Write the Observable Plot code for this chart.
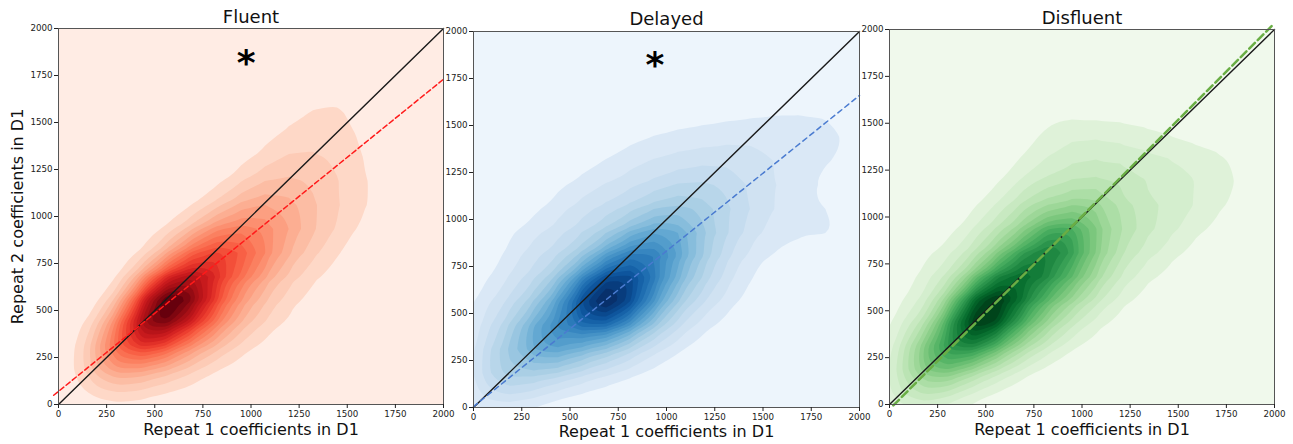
<!DOCTYPE html>
<html><head><meta charset="utf-8">
<script src="https://cdn.jsdelivr.net/npm/d3@7"></script>
<script src="https://cdn.jsdelivr.net/npm/@observablehq/plot@0.6"></script>
<style>
body{margin:0;background:#fff;}
#wrap{position:relative;width:1293px;height:444px;font-family:"DejaVu Sans";}
#wrap svg{position:absolute;top:0;overflow:visible;background:transparent;}
</style></head><body><div id="wrap"></div>
<script>
const titles = ["Fluent", "Delayed", "Disfluent"];
const xLabel = "Repeat 1 coefficients in D1";
const yLabel = "Repeat 2 coefficients in D1";
const ticks = [0, 250, 500, 750, 1000, 1250, 1500, 1750, 2000];
const diagX = [0, 2000];
const diagY = [0, 2000];

// density on a coarse grid (weights); columns x = 0..2000, rows y = 2000..0
const gridX = [0, 125, 250, 375, 500, 625, 750, 875, 1000, 1125, 1250, 1375, 1500, 1625, 1750, 1875, 2000];
const gridY = [2000, 1875, 1750, 1625, 1500, 1375, 1250, 1125, 1000, 875, 750, 625, 500, 375, 250, 125, 0];

const fluentGrid = [
  [0,0,0,0,0,0,0,0,0,0,0,0,0,0,0,0,0],
  [0,0,0,0,0,0,0,0,0,0,0,0,0,0,0,0,0],
  [0,0,0,0,0,0,0,0,0,0,0,0,0,0,0,0,0],
  [0,0,0,0,0,0,0,0,0,0,.4,.7,.7,0,0,0,0],
  [0,0,0,0,0,0,0,0,0,.4,.9,1.1,1,.1,0,0,0],
  [0,0,0,0,0,0,0,0,.3,1,1.5,1.4,1.2,.4,0,0,0],
  [0,0,0,0,0,0,0,.3,1.1,2,2.2,1.8,1.4,.6,0,0,0],
  [0,0,0,0,0,0,.3,1.3,2.8,3.2,2.8,2,1.4,.8,0,0,0],
  [0,0,0,0,0,.4,1.8,4,5,4.5,3.5,2.2,1.3,.6,0,0,0],
  [0,0,0,0,.6,2.6,6,8,6.5,5,3,1.8,.8,0,0,0,0],
  [0,0,0,.4,2.6,8,11,10,7,4,2,1,.3,0,0,0,0],
  [0,0,0,2.2,11,16,13,7,4,2,1,.4,0,0,0,0,0],
  [0,0,1.2,8,19,18,11,6,3,1.5,.6,0,0,0,0,0,0],
  [0,.5,4.5,12,14,9,6,3,1.3,.5,0,0,0,0,0,0,0],
  [0,1,6,7,6,4,2,1,.3,0,0,0,0,0,0,0,0],
  [0,1,2.5,2.5,1.5,1,.4,0,0,0,0,0,0,0,0,0,0],
  [0,0,.3,.3,.2,0,0,0,0,0,0,0,0,0,0,0,0]
];

const delayedGrid = [
  [0,0,0,0,0,0,0,0,0,0,0,0,0,0,0,0,0],
  [0,0,0,0,0,0,0,0,0,0,0,0,0,0,0,0,0],
  [0,0,0,0,0,0,0,0,0,0,0,0,0,0,0,0,0],
  [0,0,0,0,0,0,0,0,0,0,.2,.3,.4,.5,.5,.5,0],
  [0,0,0,0,0,0,0,.3,.6,.8,.9,1,1.1,1.2,1.1,1,.2],
  [0,0,0,0,0,.3,.8,1.2,1.5,1.7,1.8,2,1.8,1.5,1.3,1.2,.4],
  [0,0,0,0,.5,1,1.5,2,2.5,2.8,3,2.6,2,1.4,1,.5,0],
  [0,0,0,.6,1.3,2,2.5,3.2,4,4.5,4,3,2,1.5,.9,.5,0],
  [0,0,.6,1.2,2.2,3,4,5.5,7,6,4.5,3,2,1.2,1,1.1,.4],
  [0,.3,1.5,2.2,3,4.5,7,10,10,7,4,2.5,1.2,.9,.8,.8,0],
  [0,.8,2,3,5,9,14,14,10,6,3.5,1.5,.6,.3,0,0,0],
  [.5,1.5,3,5,10,18,19,14,8,4.5,2.5,1,.4,0,0,0,0],
  [1,2.5,4.5,8,13,18,16,10,5,2.5,1.2,.4,0,0,0,0,0],
  [1.2,3.5,7,11,10,9,7,4,2.5,1,.3,0,0,0,0,0,0],
  [1.5,5,6,7,6,4,3,1.5,.6,0,0,0,0,0,0,0,0],
  [1.5,4,4,2.5,1.5,.8,.3,0,0,0,0,0,0,0,0,0,0],
  [.8,1,.6,.3,0,0,0,0,0,0,0,0,0,0,0,0,0]
];

const disfluentGrid = [
  [0,0,0,0,0,0,0,0,0,0,0,0,0,0,0,0,0],
  [0,0,0,0,0,0,0,0,0,0,0,0,0,0,0,0,0],
  [0,0,0,0,0,0,0,0,0,0,0,0,0,0,0,0,0],
  [0,0,0,0,0,0,0,0,0,0,0,0,0,0,0,0,0],
  [0,0,0,0,0,0,.3,1,.8,.8,.7,.5,.2,0,0,0,0],
  [0,0,0,0,0,.2,.8,1.5,1.8,1.8,1.5,1.3,1,.8,.6,.2,0],
  [0,0,0,0,0,.6,1.5,2.2,2.5,2.5,2.5,2,1.8,1.3,1,.3,0],
  [0,0,0,0,.5,1.5,3,3.5,4,4,2.5,2.2,1.8,1.4,1,.3,0],
  [0,0,0,.3,1.5,3,5,6,7,4.5,3.5,2.5,1.8,1.2,.5,0,0],
  [0,0,.3,1.2,3,5,8,13,8,5,3,2,1.2,.5,0,0,0],
  [0,.4,1.2,2.5,5,10,14,11,7,4,2,1.2,.5,0,0,0,0],
  [0,.6,2,4.5,12,15,11,8,5,2.5,1.2,.4,0,0,0,0,0],
  [.3,1.4,3.5,12,20,14,8,5,2.5,1.2,.3,0,0,0,0,0,0],
  [.5,3,7,15,14,8,5,2.5,1,.3,0,0,0,0,0,0,0],
  [1,5,10,9,6,3.5,1.5,.5,0,0,0,0,0,0,0,0,0],
  [1.5,4,5,3,1.5,.6,0,0,0,0,0,0,0,0,0,0,0],
  [1,2,1.5,.6,.2,0,0,0,0,0,0,0,0,0,0,0,0]
];

// regression lines (dashed)
const fluentRegX = [-25, 2000], fluentRegY = [49, 1730];
const delayedRegX = [0, 2000], delayedRegY = [5, 1660];
const disfluentRegX = [20, 1985], disfluentRegY = [-5, 2018];

// significance markers
const starX = [975, 940, null];
const starY = [1815, 1820, null];

function rows(xs, ys) { return xs.map((x, i) => ({x, y: ys[i]})); }
function gridRows(m) {
  const out = [];
  m.forEach((r, i) => r.forEach((w, j) => { if (w > 0) out.push({x: gridX[j], y: gridY[i], w}); }));
  return out;
}

function panel(cfg) {
  const marks = [
    Plot.frame({fill: cfg.interp(0.05)}),
    Plot.density(gridRows(cfg.grid), {x: "x", y: "y", weight: "w", bandwidth: cfg.bw, thresholds: 20, fill: "density", clip: true}),
    Plot.line(rows(diagX, diagY), {x: "x", y: "y", stroke: "#1a1a1a", strokeWidth: 1.4}),
    Plot.line(rows(cfg.rx, cfg.ry), {x: "x", y: "y", stroke: cfg.reg, strokeWidth: cfg.regW, strokeDasharray: cfg.dash}),
    Plot.frame({stroke: "#555", strokeWidth: 1}),
    Plot.axisX({ticks, tickFormat: "d", tickSize: 4, tickPadding: 2, label: null, fontSize: 8.7, color: "#222"}),
    Plot.axisY({ticks, tickFormat: "d", tickSize: 4, tickPadding: 2, label: null, fontSize: 8.7, color: "#222"}),
    Plot.text([cfg.title], {frameAnchor: "top", lineAnchor: "middle", dy: cfg.tdy, fontSize: 18, fill: "#111"}),
    Plot.text([xLabel], {frameAnchor: "bottom", lineAnchor: "middle", dy: cfg.xdy, fontSize: 16, fill: "#111"})
  ];
  if (cfg.sx != null) marks.push(Plot.text(["*"], {x: () => cfg.sx, y: () => cfg.sy, fontSize: 36, fontWeight: "bold", fill: "#000"}));
  if (cfg.ylab) marks.push(Plot.text([yLabel], {frameAnchor: "left", textAnchor: "middle", lineAnchor: "middle", dx: -41, rotate: -90, fontSize: 16, fill: "#111"}));
  const svg = Plot.plot({
    width: cfg.width, height: 444,
    marginLeft: cfg.ml, marginRight: cfg.mr, marginTop: cfg.mt, marginBottom: cfg.mb,
    style: {background: "transparent", fontFamily: "DejaVu Sans", overflow: "visible"},
    x: {domain: [0, 2000]},
    y: {domain: [0, 2000]},
    color: {type: "linear", interpolate: t => cfg.interp(0.1 + 0.9 * t)},
    marks
  });
  svg.style.left = cfg.left + "px";
  return svg;
}

const wrap = document.getElementById("wrap");
wrap.appendChild(panel({title: titles[0], left: 0, width: 445, ml: 58, mr: 2, mt: 28, mb: 40, tdy: -11, xdy: 25.6,
  grid: fluentGrid, bw: 13, interp: d3.interpolateReds,
  rx: fluentRegX, ry: fluentRegY, reg: "#ff1a1a", regW: 1.5, dash: "5,3", sx: starX[0], sy: starY[0], ylab: true}));
wrap.appendChild(panel({title: titles[1], left: 445, width: 418, ml: 28, mr: 4, mt: 31, mb: 37, tdy: -12, xdy: 24.6,
  grid: delayedGrid, bw: 13, interp: d3.interpolateBlues,
  rx: delayedRegX, ry: delayedRegY, reg: "#4a7bd0", regW: 1.5, dash: "5,4", sx: starX[1], sy: starY[1]}));
wrap.appendChild(panel({title: titles[2], left: 863, width: 430, ml: 26, mr: 19, mt: 29, mb: 40, tdy: -11, xdy: 25.6,
  grid: disfluentGrid, bw: 13, interp: d3.interpolateGreens,
  rx: disfluentRegX, ry: disfluentRegY, reg: "#6aae45", regW: 2.5, dash: "8,4", sx: starX[2], sy: starY[2]}));
</script></body></html>
